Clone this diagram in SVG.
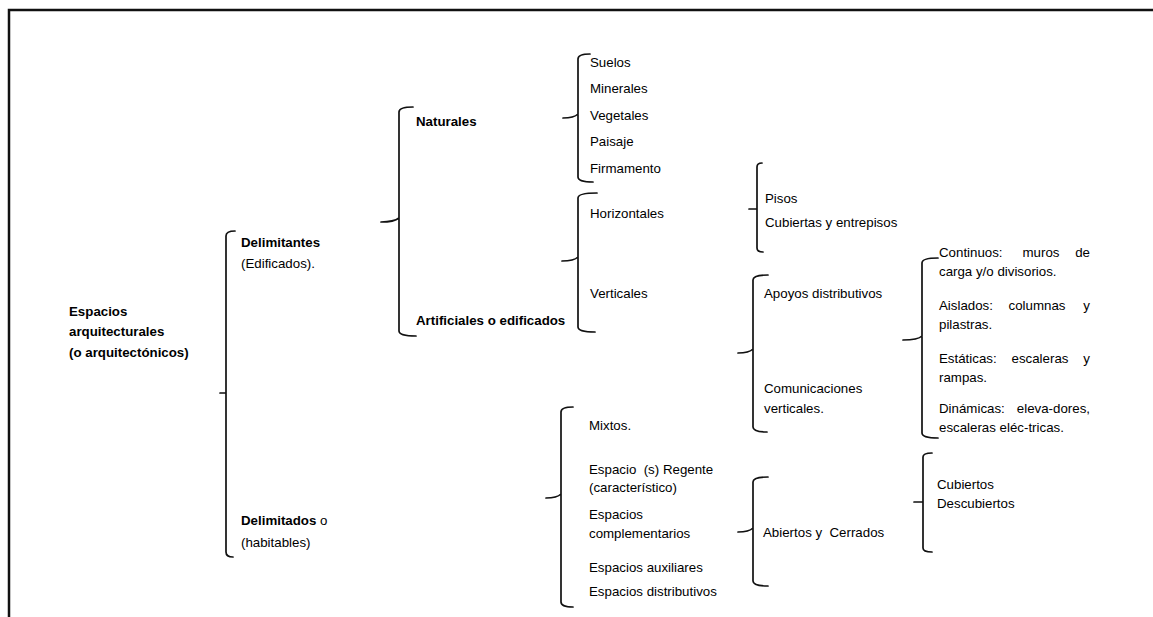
<svg xmlns="http://www.w3.org/2000/svg" width="1153" height="617" viewBox="0 0 1153 617">
<style>
text{font-family:"Liberation Sans",Arial,sans-serif;font-size:13.3px;fill:#000;white-space:pre}
.b{font-weight:bold}
.br{fill:none;stroke:#111;stroke-width:1.7;stroke-linecap:round;stroke-linejoin:round}
.frame{fill:none;stroke:#111;stroke-width:2.5}
</style>
<rect width="1153" height="617" fill="#fff"/>
<path class="frame" d="M9,617 V10 H1153"/>
<g id="connectors">
<path class="br" d="M235,231 Q226,231 226,236 V552 Q226,557 233,557 M220,393 H226"/>
<path class="br" d="M413,107 Q399,107 399,112 V331 Q399,336 416,336 M381,222 Q394,222 399,218"/>
<path class="br" d="M590,54 Q578,54 578,59 V177 Q578,182 593,182 M563,118 Q574,118 578,114"/>
<path class="br" d="M597,193 Q578,193 578,198 V327 Q578,332 595,332 M562,261 Q574,261 578,257"/>
<path class="br" d="M762,163 Q757,163 757,167 V248 Q757,252 763,252 M749,209 H757"/>
<path class="br" d="M768,275 Q753,275 753,280 V427 Q753,432 767,432 M738,353 Q749,353 753,349"/>
<path class="br" d="M938,258 Q922,258 922,263 V433 Q922,438 938,438 M903,340 Q918,340 922,336"/>
<path class="br" d="M573,407 Q561,407 561,412 V602 Q561,607 573,607 M546,498 Q557,498 561,494"/>
<path class="br" d="M768,477 Q753,477 753,482 V581 Q753,586 768,586 M738,532 Q749,532 753,528"/>
<path class="br" d="M932,453 Q923,453 923,457 V548 Q923,552 932,552 M914,502 H923"/>
</g>
<g id="n-root"><text class="b" x="69" y="316">Espacios</text><text class="b" x="69" y="336">arquitecturales</text><text class="b" x="69" y="357">(o arquitectónicos)</text></g>
<g id="n-delimitantes"><text class="b" x="241" y="247">Delimitantes</text><text x="241" y="268">(Edificados).</text></g>
<g id="n-delimitados"><text x="241" y="525"><tspan class="b">Delimitados</tspan> o</text><text x="241" y="547">(habitables)</text></g>
<g id="n-naturales"><text class="b" x="416" y="126">Naturales</text></g>
<g id="n-artificiales"><text class="b" x="416" y="325">Artificiales o edificados</text></g>
<g id="n-nat-items"><text x="590" y="67">Suelos</text><text x="590" y="93">Minerales</text><text x="590" y="120">Vegetales</text><text x="590" y="146">Paisaje</text><text x="590" y="173">Firmamento</text></g>
<g id="n-horizontales"><text x="590" y="218">Horizontales</text></g>
<g id="n-verticales"><text x="590" y="298">Verticales</text></g>
<g id="n-pisos"><text x="765" y="203">Pisos</text><text x="765" y="227">Cubiertas y entrepisos</text></g>
<g id="n-apoyos"><text x="764" y="298">Apoyos distributivos</text></g>
<g id="n-comunicaciones"><text x="764" y="393">Comunicaciones</text><text x="764" y="413">verticales.</text></g>
<g id="n-tipos">
<text x="939" y="257">Continuos:</text><text x="1041" y="257" text-anchor="middle">muros</text><text x="1090" y="257" text-anchor="end">de</text>
<text x="939" y="276">carga y/o divisorios.</text>
<text x="939" y="310">Aislados:</text><text x="1037" y="310" text-anchor="middle">columnas</text><text x="1090" y="310" text-anchor="end">y</text>
<text x="939" y="329">pilastras.</text>
<text x="939" y="363">Estáticas:</text><text x="1040" y="363" text-anchor="middle">escaleras</text><text x="1090" y="363" text-anchor="end">y</text>
<text x="939" y="382">rampas.</text>
<text x="939" y="413">Dinámicas:</text><text x="1090" y="413" text-anchor="end">eleva-dores,</text>
<text x="939" y="432">escaleras eléc-tricas.</text>
</g>
<g id="n-delimitados-items"><text x="589" y="430">Mixtos.</text><text x="589" y="474">Espacio  (s) Regente</text><text x="589" y="492">(característico)</text><text x="589" y="519">Espacios</text><text x="589" y="538">complementarios</text><text x="589" y="572">Espacios auxiliares</text><text x="589" y="596">Espacios distributivos</text></g>
<g id="n-abiertos"><text x="763" y="537">Abiertos y  Cerrados</text></g>
<g id="n-cubiertos"><text x="937" y="489">Cubiertos</text><text x="937" y="508">Descubiertos</text></g>
</svg>
